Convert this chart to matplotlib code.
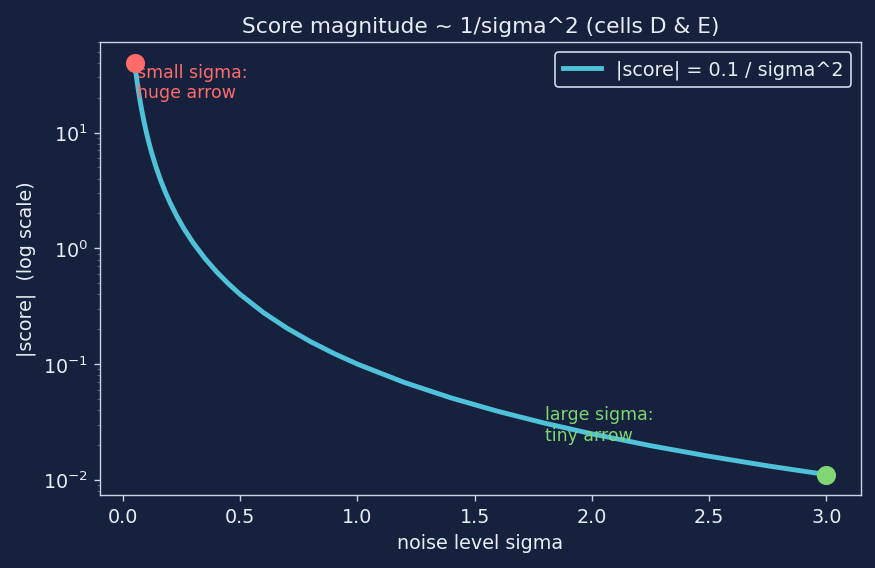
import matplotlib
matplotlib.use("Agg")
import matplotlib.pyplot as plt

BG = "#16213e"
FG = "#e8ecf4"
SPINE = "#c9d3e6"

# values (sigma, |score|)
sigma = [0.05, 0.055, 0.06, 0.065, 0.07, 0.075, 0.08, 0.09, 0.10, 0.11, 0.12, 0.14,
         0.16, 0.18, 0.20, 0.23, 0.26, 0.30, 0.35, 0.40, 0.45, 0.50, 0.60, 0.70,
         0.80, 0.90, 1.00, 1.20, 1.40, 1.60, 1.80, 2.00, 2.25, 2.50, 2.75, 3.00]
score = [40.0, 33.06, 27.78, 23.67, 20.41, 17.78, 15.63, 12.35, 10.0, 8.264, 6.944, 5.102,
         3.906, 3.086, 2.5, 1.890, 1.479, 1.111, 0.8163, 0.625, 0.4938, 0.4, 0.2778, 0.2041,
         0.1563, 0.1235, 0.1, 0.06944, 0.05102, 0.03906, 0.03086, 0.025, 0.01975, 0.016, 0.01322, 0.01111]

small_label = "small sigma:\nhuge arrow"
large_label = "large sigma:\ntiny arrow"

plt.rcParams.update(
    {
        "figure.facecolor": BG,
        "axes.facecolor": BG,
        "axes.edgecolor": SPINE,
        "axes.labelcolor": FG,
        "xtick.color": SPINE,
        "ytick.color": SPINE,
        "xtick.labelcolor": FG,
        "ytick.labelcolor": FG,
        "text.color": FG,
        "font.size": 11,
    }
)

fig, ax = plt.subplots(figsize=(7, 4.55), dpi=125)
ax.plot(sigma, score, color="#4fc1d9", linewidth=2.8, label="|score| = 0.1 / sigma^2")
ax.scatter([sigma[0]], [score[0]], s=100, color="#ff6b6b", zorder=5)
ax.scatter([sigma[-1]], [score[-1]], s=100, color="#7fd672", zorder=5)
ax.set_yscale("log")
ax.text(0.06, 20, small_label, color="#ff6b6b", fontsize=10)
ax.text(1.8, 0.022, large_label, color="#7fd672", fontsize=10)
ax.set_title("Score magnitude ~ 1/sigma^2 (cells D & E)", fontsize=12.5)
ax.set_xlabel("noise level sigma")
ax.set_ylabel("|score|  (log scale)")
ax.tick_params(which="minor", color="#55607a")
leg = ax.legend(loc="upper right", facecolor=BG, edgecolor=SPINE, framealpha=1)
for t in leg.get_texts():
    t.set_color(FG)
fig.subplots_adjust(left=0.1144, right=0.984, top=0.9244, bottom=0.128)
plt.savefig("out.png", dpi=125, facecolor=fig.get_facecolor())
